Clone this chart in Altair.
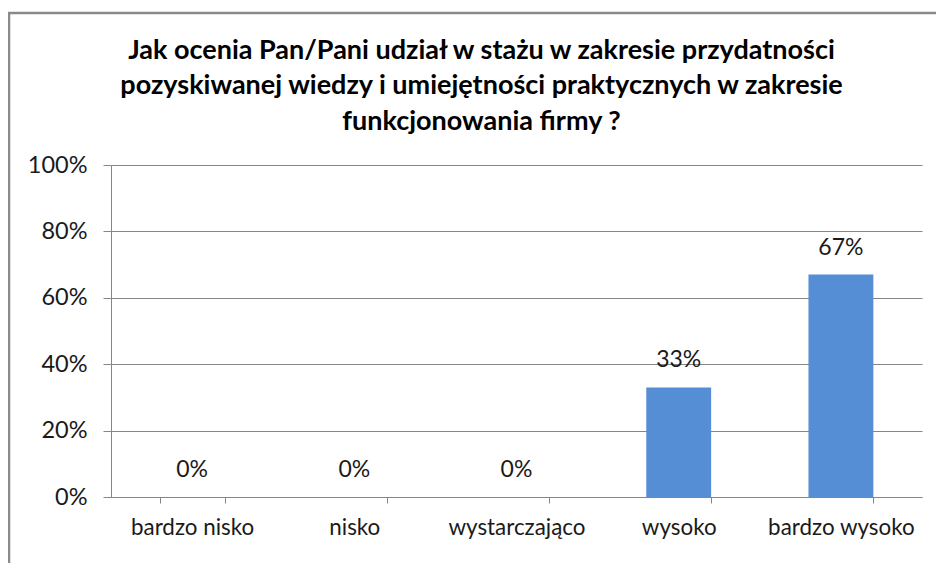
import altair as alt
import pandas as pd

categories = ["bardzo nisko", "nisko", "wystarczająco", "wysoko", "bardzo wysoko"]
values = [0, 0, 0, 33, 67]
labels = ["0%", "0%", "0%", "33%", "67%"]
y_ticks = [0, 0.2, 0.4, 0.6, 0.8, 1.0]
title_lines = [
    "Jak ocenia Pan/Pani udział w stażu w zakresie przydatności",
    "pozyskiwanej wiedzy i umiejętności praktycznych w zakresie",
    "funkcjonowania firmy ?",
]

df = pd.DataFrame({
    "kat": categories,
    "val": [v / 100 for v in values],
    "lab": labels,
})

FONT = "Lato"
GRAY = "#868686"
FRAME = "#8a8a8a"

x_enc = alt.X(
    "kat:N",
    sort=categories,
    title=None,
    scale=alt.Scale(paddingInner=0.6, paddingOuter=0.3),
    axis=alt.Axis(
        labelAngle=0,
        tickBand="extent",
        tickSize=6,
        tickColor=GRAY,
        domainColor=GRAY,
        labelPadding=13,
        labelFontSize=22.4,
        labelFont=FONT,
        labelColor="#1a1a1a",
        grid=False,
    ),
)
y_enc = alt.Y(
    "val:Q",
    title=None,
    scale=alt.Scale(domain=[0, 1]),
    axis=alt.Axis(
        values=y_ticks,
        format=".0%",
        grid=True,
        gridColor=GRAY,
        domainColor=GRAY,
        tickColor=GRAY,
        tickSize=8,
        labelPadding=16,
        labelFontSize=23.5,
        labelFont=FONT,
        labelColor="#1a1a1a",
    ),
)

bars = alt.Chart(df).mark_bar(color="#558ED5").encode(x=x_enc, y=y_enc)
texts = alt.Chart(df).mark_text(
    font=FONT, fontSize=23, dy=-20, baseline="alphabetic", color="#1a1a1a"
).encode(x=alt.X("kat:N", sort=categories), y="val:Q", text="lab:N")

one = pd.DataFrame({"f": [0]})
frame_top = alt.Chart(one).mark_rule(color=FRAME, strokeWidth=2.5).encode(
    x=alt.value(-103), x2=alt.value(830), y=alt.value(-152)
)
frame_left = alt.Chart(one).mark_rule(color=FRAME, strokeWidth=2.5).encode(
    x=alt.value(-102), y=alt.value(-153), y2=alt.value(500)
)

chart = alt.layer(frame_top, frame_left, bars, texts).properties(
    width=811,
    height=332,
    padding={"left": 103, "top": 157, "right": 14, "bottom": 66},
    autosize=alt.AutoSizeParams(type="none"),
    title=alt.TitleParams(
        text=title_lines,
        font=FONT,
        fontSize=27,
        fontWeight="bold",
        color="#000000",
        anchor="middle",
        frame="group",
        dx=-35,
        dy=125,
        lineHeight=35.5,
        offset=0,
    ),
).configure_view(stroke=None)

chart.save("out.html", embed_options={"renderer": "svg", "actions": False})
